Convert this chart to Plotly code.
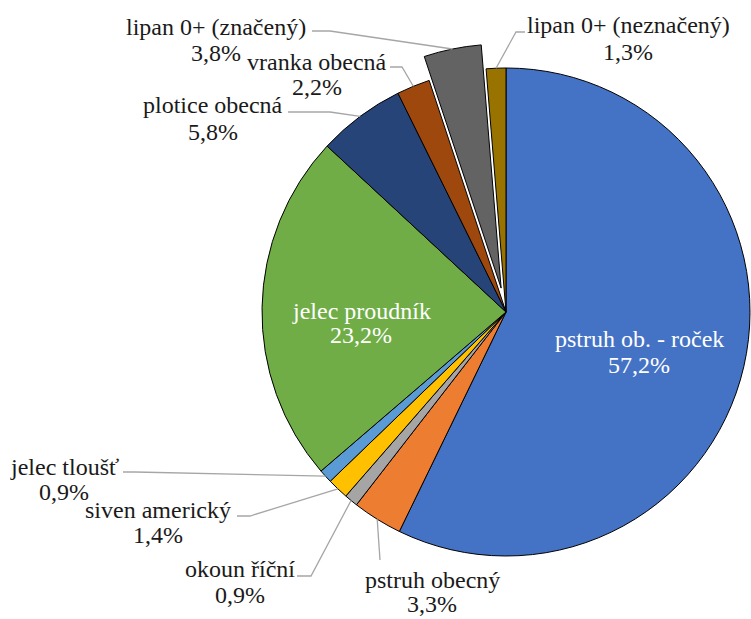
import math
import plotly.graph_objects as go

# ---- data ----
categories = ["pstruh ob. - roček", "pstruh obecný", "okoun říční", "siven americký",
              "jelec tloušť", "jelec proudník", "plotice obecná", "vranka obecná",
              "lipan 0+ (značený)", "lipan 0+ (neznačený)"]
values = [57.2, 3.3, 0.9, 1.4, 0.9, 23.2, 5.8, 2.2, 3.8, 1.3]
value_labels = ["57,2%", "3,3%", "0,9%", "1,4%", "0,9%", "23,2%", "5,8%", "2,2%", "3,8%", "1,3%"]
colors = ["#4472C4", "#ED7D31", "#A5A5A5", "#FFC000", "#5B9BD5", "#70AD47",
          "#264478", "#9E480E", "#636363", "#997300"]
pulled_index = 8
pull_fraction = 0.1

# ---- layout (pixels) ----
W, H = 751, 619
CX, CY, R = 506, 312, 244          # pie centre / radius in page pixels (y from top)
FONT = "Liberation Serif, Times New Roman, Times, serif"
FS = 24

# label layout: text centre x, baselines of the two lines, line end near text, elbow point
label_layout = {
    0: dict(x=639, base=(347, 373), inside=True),
    1: dict(x=432, base=(588, 612), end=(380, 560), elbow=None),
    2: dict(x=240, base=(577, 603), end=(297, 576), elbow=(311, 576)),
    3: dict(x=158, base=(518, 543), end=(237, 516), elbow=(250, 516)),
    4: dict(x=64, base=(475, 500), end=(123, 472), elbow=(135, 472)),
    5: dict(x=361, base=(319, 343), inside=True),
    6: dict(x=213, base=(113, 140), end=(288, 112), elbow=(330, 112)),
    7: dict(x=317, base=(70, 95), end=(390, 67), elbow=(402, 67)),
    8: dict(x=216, base=(35, 61), end=(312, 31), elbow=(330, 31)),
    9: dict(x=628, base=(33, 60), end=(525, 32), elbow=(516, 32)),
}

def px(x):
    return x / W

def py(y):
    return 1 - y / H

total = sum(values)
cum = 0
mid_angles = []
for v in values:
    mid_angles.append((cum + v / 2) / total * 2 * math.pi)
    cum += v

# pull offset for pulled slice
a = mid_angles[pulled_index]
off_x = R * pull_fraction * math.sin(a)
off_y = -R * pull_fraction * math.cos(a)

def domain(cx, cy):
    return dict(x=[px(cx - R), min(1, px(cx + R))], y=[py(cy + R), py(cy - R)])

transparent = "rgba(0,0,0,0)"
main_colors = [c if i != pulled_index else transparent for i, c in enumerate(colors)]
main_lw = [1 if i != pulled_index else 0 for i in range(len(values))]
pull_colors = [c if i == pulled_index else transparent for i, c in enumerate(colors)]
pull_lw = [1 if i == pulled_index else 0 for i in range(len(values))]

fig = go.Figure()
fig.add_trace(go.Pie(labels=categories, values=values, sort=False, direction="clockwise",
                     rotation=0, textinfo="none", hoverinfo="label+percent",
                     marker=dict(colors=main_colors, line=dict(color="black", width=main_lw)),
                     domain=domain(CX, CY), showlegend=False))
fig.add_trace(go.Pie(labels=categories, values=values, sort=False, direction="clockwise",
                     rotation=0, textinfo="none", hoverinfo="label+percent",
                     marker=dict(colors=pull_colors, line=dict(color="black", width=pull_lw)),
                     domain=domain(CX + off_x, CY + off_y), showlegend=False))

annotations = []
shapes = []
for i, (cat, lab) in enumerate(zip(categories, value_labels)):
    L = label_layout[i]
    inside = L.get("inside", False)
    for txt, b in zip((cat, lab), L["base"]):
        annotations.append(dict(
            x=px(L["x"]), y=py(b - 0.32 * FS), xref="paper", yref="paper",
            xanchor="center", yanchor="middle", text=txt, showarrow=False,
            font=dict(family=FONT, size=FS, color="white" if inside else "#1a1a1a")))
    if not inside:
        ang = mid_angles[i]
        ex = CX + R * math.sin(ang)
        ey = CY - R * math.cos(ang)
        if i == pulled_index:
            ex += off_x
            ey += off_y
        pts = [(ex, ey)]
        if L["elbow"] is not None:
            pts.append(L["elbow"])
        pts.append(L["end"])
        path = "M " + " L ".join(f"{px(p[0])},{py(p[1])}" for p in pts)
        shapes.append(dict(type="path", path=path, xref="paper", yref="paper",
                           line=dict(color="#A6A6A6", width=1.3)))

fig.update_layout(width=W, height=H, margin=dict(l=0, r=0, t=0, b=0),
                  paper_bgcolor="white", plot_bgcolor="white",
                  font=dict(family=FONT),
                  annotations=annotations, shapes=shapes)
fig.write_html("out.html", config={"displayModeBar": False},
               post_script="document.body.style.margin='0';document.body.style.overflow='hidden';")
